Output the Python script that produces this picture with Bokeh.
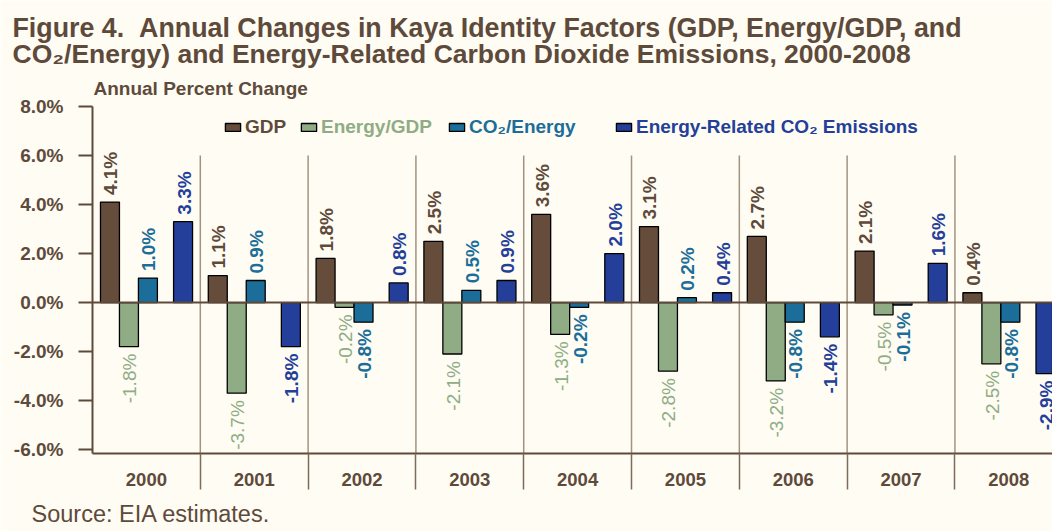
import math
from bokeh.plotting import figure
from bokeh.models import (ColumnDataSource, FixedTicker, PrintfTickFormatter, Span,
                          Legend, LegendItem, Title)
from bokeh.embed import file_html
from bokeh.resources import INLINE
from bokeh.core.properties import value

# ---------------- data ----------------
years = ["2000", "2001", "2002", "2003", "2004", "2005", "2006", "2007", "2008"]
gdp = [4.1, 1.1, 1.8, 2.5, 3.6, 3.1, 2.7, 2.1, 0.4]
energy_gdp = [-1.8, -3.7, -0.2, -2.1, -1.3, -2.8, -3.2, -0.5, -2.5]
co2_energy = [1.0, 0.9, -0.8, 0.5, -0.2, 0.2, -0.8, -0.1, -0.8]
emissions = [3.3, -1.8, 0.8, 0.9, 2.0, 0.4, -1.4, 1.6, -2.9]
series_names = ["GDP", "Energy/GDP", "CO\u2082/Energy", "Energy-Related CO\u2082 Emissions"]
y_ticks = [-6, -4, -2, 0, 2, 4, 6, 8]

title_line1 = "Figure 4. \u00a0Annual Changes in Kaya Identity Factors (GDP, Energy/GDP, and"
title_line2 = "CO\u2082/Energy) and Energy-Related Carbon Dioxide Emissions, 2000-2008"
y_title = "Annual Percent Change"
source_note = "Source: EIA estimates."

# ---------------- style ----------------
FONT = "Liberation Sans"
BG = "#FEFCF3"
BROWN = "#5E4A3B"
bar_colors = ["#654C3B", "#8FAC84", "#1B6E99", "#243F9A"]
label_colors = ["#5E4A3B", "#8FAC84", "#1B6E99", "#243F9A"]
label_weights = ["bold", "normal", "bold", "bold"]
offsets = [0.162, 0.338, 0.514, 0.84]
BAR_W = 0.176
Y0, Y1 = -6.16, 8.0
X_END = 8.905
FRAME_BOTTOM = 453

p = figure(width=1052, height=531, x_range=(0, X_END), y_range=(Y0, Y1),
           output_backend="svg", toolbar_location=None,
           min_border_left=92, min_border_right=0, min_border_top=106, min_border_bottom=78,
           background_fill_color=BG, border_fill_color=BG, outline_line_color=None)
p.grid.visible = False

# y axis
yax = p.yaxis[0]
yax.ticker = FixedTicker(ticks=y_ticks)
yax.formatter = PrintfTickFormatter(format="%.1f%%")
yax.major_tick_out = 14
yax.major_tick_in = 0
yax.minor_tick_out = 0
yax.minor_tick_in = 0
yax.axis_line_color = BROWN
yax.axis_line_width = 2
yax.major_tick_line_color = BROWN
yax.major_tick_line_width = 2
yax.major_label_text_font = FONT
yax.major_label_text_font_style = "bold"
yax.major_label_text_font_size = "19px"
yax.major_label_text_color = BROWN
yax.major_label_standoff = 15

# x axis
n = len(years)
xax = p.xaxis[0]
xax.ticker = FixedTicker(ticks=[i + 0.5 for i in range(n)],
                         minor_ticks=[i for i in range(1, n + 1)])
xax.major_label_overrides = {i + 0.5: y for i, y in enumerate(years)}
xax.major_tick_out = 0
xax.major_tick_in = 0
xax.minor_tick_out = 36
xax.minor_tick_in = 0
xax.minor_tick_line_color = "#7D6A58"
xax.minor_tick_line_width = 1.5
xax.axis_line_color = BROWN
xax.axis_line_width = 2
xax.major_label_text_font = FONT
xax.major_label_text_font_style = "bold"
xax.major_label_text_font_size = "18.5px"
xax.major_label_text_color = BROWN
xax.major_label_standoff = -17

# separators inside plot
seps = [i for i in range(1, n + 1)]
p.segment(x0=seps, y0=[Y0] * n, x1=seps, y1=[6.0] * n, line_color="#A29381", line_width=1.5)

# bars + labels
series = [gdp, energy_gdp, co2_energy, emissions]
bar_renderers = []
for k, vals in enumerate(series):
    xs = [i + offsets[k] for i in range(n)]
    src = ColumnDataSource(dict(
        x=xs, top=vals,
        txt=[f"{v:.1f}%" for v in vals],
        align=["left" if v >= 0 else "right" for v in vals],
        yoff=[-7 if v >= 0 else 7 for v in vals],
    ))
    r = p.vbar(x="x", top="top", bottom=0, width=BAR_W, source=src,
               fill_color=bar_colors[k], line_color="black", line_width=1.3)
    bar_renderers.append(r)
    p.text(x="x", y="top", text="txt", source=src, angle=math.pi / 2,
           text_align="align", text_baseline="middle", y_offset="yoff", x_offset=1,
           text_font=value(FONT), text_font_style=label_weights[k],
           text_font_size="19px", text_color=label_colors[k])

p.add_layout(Span(location=0, dimension="width", line_color=BROWN, line_width=2))

# legends (one per series so each label has its own colour)
leg_x = [131, 207, 355, 522]
leg_y = 315
for k, r in enumerate(bar_renderers):
    lg = Legend(items=[LegendItem(label=series_names[k], renderers=[r])],
                location=(leg_x[k], leg_y), orientation="horizontal",
                background_fill_alpha=0, border_line_color=None,
                padding=0, margin=0, glyph_width=19, glyph_height=10,
                label_standoff=3, label_height=10,
                label_text_font=FONT, label_text_font_style="bold",
                label_text_font_size="19px", label_text_color=label_colors[k])
    p.add_layout(lg)

# titles (closest to the frame first)
def make_title(txt, size, style, off, standoff, valign="bottom", lh=1.0):
    return Title(text=txt, align="left", offset=off, standoff=standoff,
                 vertical_align=valign, text_line_height=lh,
                 text_font=FONT, text_font_size=size, text_font_style=style,
                 text_color=BROWN)

p.add_layout(make_title(y_title, "19px", "bold", 1, 16), "above")
p.add_layout(make_title(title_line2, "26.5px", "bold", -80, -3), "above")
p.add_layout(make_title(title_line1, "26.8px", "bold", -80, -9), "above")
p.add_layout(make_title("\n" + source_note, "23.5px", "normal", -61, 0, "top", 0.485), "below")

open("out.html", "w").write(file_html(p, INLINE))
